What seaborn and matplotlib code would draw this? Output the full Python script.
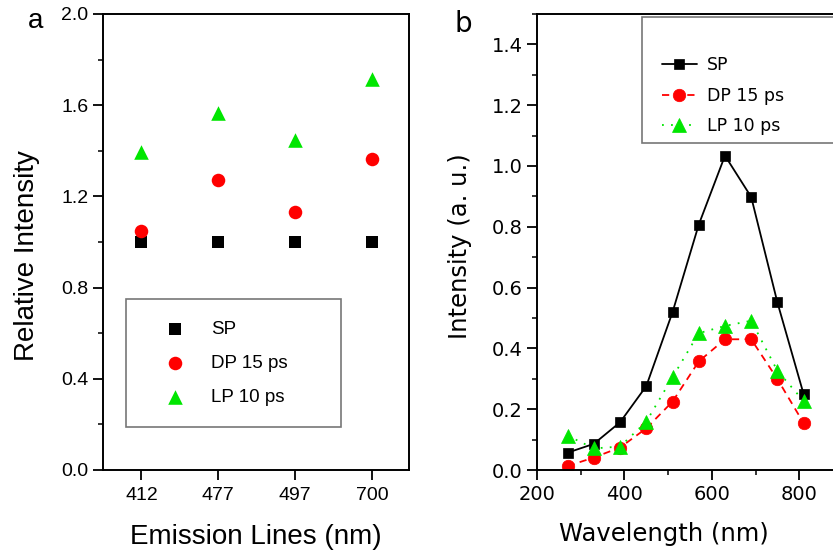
import matplotlib
matplotlib.use("Agg")
import matplotlib.pyplot as plt
from matplotlib.patches import Rectangle
from matplotlib.ticker import MultipleLocator
import pandas as pd
import seaborn as sns

# panel a: relative intensity at emission lines
lines_nm = ["412", "477", "497", "700"]
rel_sp = [1.00, 1.00, 1.00, 1.00]
rel_dp = [1.05, 1.27, 1.13, 1.365]
rel_lp = [1.395, 1.565, 1.447, 1.713]

# panel b: spectra
wavelength = [270, 330, 390, 450, 510, 570, 630, 690, 750, 810]
int_sp = [0.057, 0.086, 0.157, 0.276, 0.519, 0.807, 1.034, 0.898, 0.551, 0.249]
int_dp = [0.013, 0.041, 0.074, 0.137, 0.225, 0.357, 0.430, 0.430, 0.299, 0.154]
int_lp = [0.113, 0.071, 0.077, 0.159, 0.305, 0.450, 0.474, 0.491, 0.326, 0.227]

labels = ["SP", "DP 15 ps", "LP 10 ps"]
colors = ["black", "#ff0000", "#00e600"]

sns.set_theme(style="ticks")
plt.rcParams["font.family"] = ["Liberation Sans", "DejaVu Sans"]
plt.rcParams["axes.linewidth"] = 1.4
plt.rcParams["text.color"] = "black"
plt.rcParams["axes.labelcolor"] = "black"
plt.rcParams["xtick.color"] = "black"
plt.rcParams["ytick.color"] = "black"

fig = plt.figure(figsize=(8.33, 5.54), dpi=100)
ax_a = fig.add_axes([103 / 833, 84 / 554, 306 / 833, 456 / 554])
ax_b = fig.add_axes([537 / 833, 84 / 554, 306 / 833, 456 / 554])

# ---- panel a
df_a = pd.DataFrame({"line": lines_nm * 3,
                     "value": rel_sp + rel_dp + rel_lp,
                     "series": [l for l in labels for _ in lines_nm]})
markers_a = {"SP": "s", "DP 15 ps": "o", "LP 10 ps": "^"}
sizes_a = {"SP": 70, "DP 15 ps": 95, "LP 10 ps": 110}
for lab, col in zip(labels, colors):
    sub = df_a[df_a["series"] == lab]
    sns.scatterplot(data=sub, x="line", y="value", ax=ax_a, color=col,
                    marker=markers_a[lab], s=sizes_a[lab], linewidth=0,
                    label=lab, zorder=3)

ax_a.set_xlim(-0.5, 3.48)
ax_a.set_ylim(0, 2.0)
ax_a.yaxis.set_major_locator(MultipleLocator(0.4))
ax_a.yaxis.set_minor_locator(MultipleLocator(0.2))
ax_a.tick_params(axis="both", which="major", direction="out", length=7, width=1.3,
                 labelsize=14)
ax_a.tick_params(axis="y", which="minor", direction="out", length=3.5, width=1.1)
ax_a.tick_params(axis="x", pad=5)
ax_a.set_xlabel("Emission Lines (nm)", fontsize=20)
ax_a.set_ylabel("Relative Intensity", fontsize=20)
ax_a.xaxis.set_label_coords(0.5, -0.118)
ax_a.yaxis.set_label_coords(-0.205, 0.47)
for sp in ax_a.spines.values():
    sp.set_visible(True)
    sp.set_color("black")

leg_a = ax_a.legend(loc="upper left", bbox_to_anchor=(0.075, 0.375, 0.703, 0.0),
                    mode="expand", borderaxespad=0, fontsize=13.5, frameon=True,
                    fancybox=False, edgecolor="#777777", framealpha=1,
                    borderpad=1.15, labelspacing=0.9, handlelength=2.9,
                    handletextpad=0.5, scatterpoints=1)
leg_a.get_frame().set_linewidth(1.2)

# ---- panel b
series_b = [int_sp, int_dp, int_lp]
markers_b = ["s", "o", "^"]
styles_b = ["-", (0, (4, 3)), (0, (1, 4))]
msize_b = [7.5, 9, 9.5]
for vals, lab, col, mk, ls, ms in zip(series_b, labels, colors, markers_b, styles_b, msize_b):
    sns.lineplot(x=wavelength, y=vals, ax=ax_b, color=col, marker=mk,
                 markersize=ms, markeredgecolor=col, markeredgewidth=0.5,
                 linestyle=ls, linewidth=1.3, label=lab)

ax_b.set_xlim(200, 900)
ax_b.set_ylim(0, 1.5)
ax_b.xaxis.set_major_locator(MultipleLocator(200))
ax_b.xaxis.set_minor_locator(MultipleLocator(100))
ax_b.yaxis.set_major_locator(MultipleLocator(0.2))
ax_b.yaxis.set_minor_locator(MultipleLocator(0.1))
ax_b.tick_params(axis="both", which="major", direction="out", length=7, width=1.3,
                 labelsize=14, labelfontfamily="DejaVu Sans")
ax_b.tick_params(axis="both", which="minor", direction="out", length=3.5, width=1.1)
ax_b.set_xlabel("Wavelength (nm)", fontsize=17.5, family="DejaVu Sans")
ax_b.set_ylabel("Intensity (a. u.)", fontsize=17.5, family="DejaVu Sans")
ax_b.xaxis.set_label_coords(0.415, -0.115)
ax_b.yaxis.set_label_coords(-0.212, 0.49)
for sp in ax_b.spines.values():
    sp.set_visible(True)
    sp.set_color("black")

# legend frame drawn separately so the padding can be uneven like the original
ax_b.add_patch(Rectangle((0.343, 0.717), 0.75, 0.276, transform=ax_b.transAxes,
                         facecolor="white", edgecolor="#777777", linewidth=1.2,
                         clip_on=False, zorder=4))
leg_b = ax_b.legend(loc="upper left", bbox_to_anchor=(0.408, 0.907),
                    borderaxespad=0, borderpad=0, frameon=False,
                    labelspacing=0.72, handlelength=2.0, handletextpad=0.6,
                    prop={"family": "DejaVu Sans", "size": 12.5})
leg_b.set_zorder(5)

fig.text(36 / 833, 1 - 28 / 554, "a", fontsize=20, ha="center", va="baseline")
fig.text(463 / 833, 1 - 32 / 554, "b", fontsize=20, ha="center", va="baseline",
         family="DejaVu Sans")

fig.savefig("out.png", dpi=100)
